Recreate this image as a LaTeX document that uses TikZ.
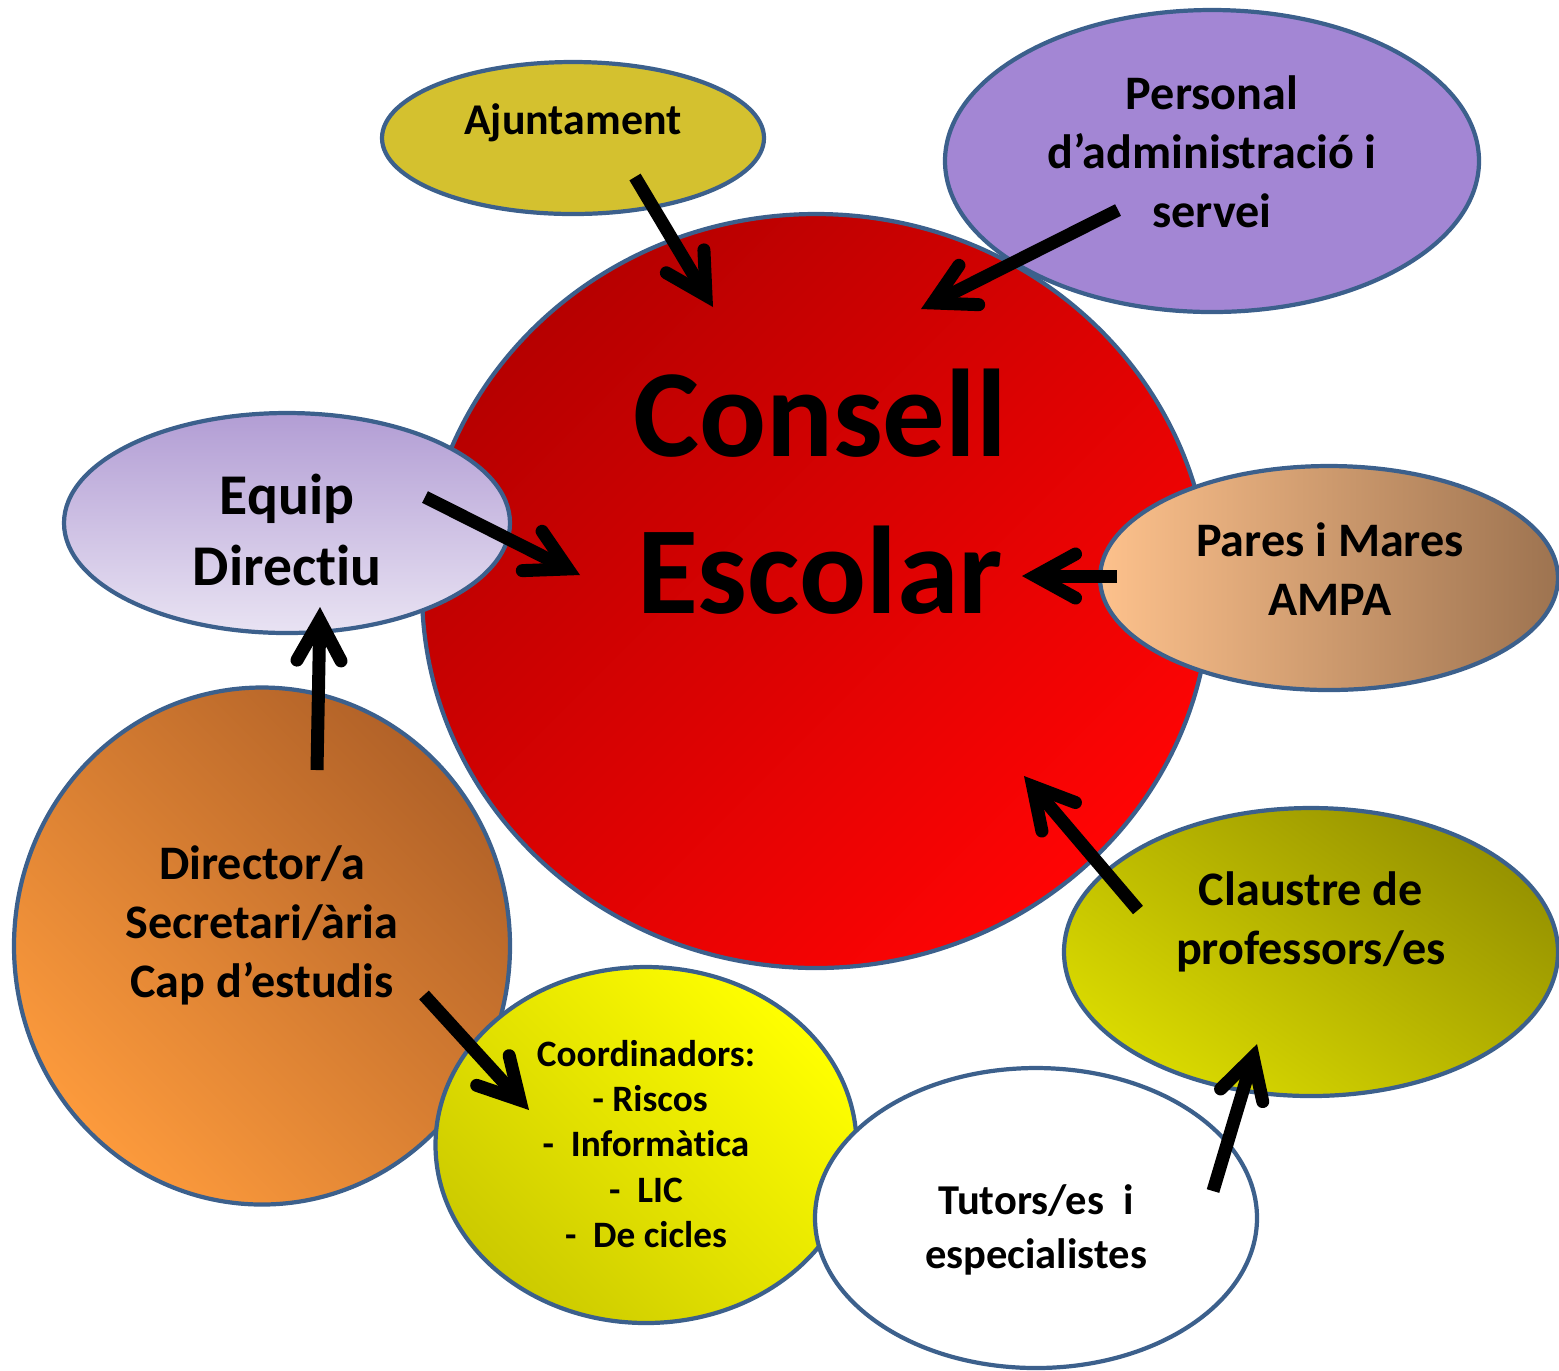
\documentclass[tikz,border=0pt]{standalone}
\usepackage{fontspec}
\setmainfont{Carlito}[Ligatures={TeX,NoCommon}]
\usetikzlibrary{shapes.geometric,arrows.meta}

\definecolor{edgeblue}{RGB}{60,96,140}
\definecolor{ajcol}{RGB}{212,193,47}
\definecolor{perscol}{RGB}{163,134,212}
\definecolor{redA}{RGB}{182,0,0}
\definecolor{redB}{RGB}{255,4,4}
\definecolor{eqA}{RGB}{178,157,212}
\definecolor{eqB}{RGB}{233,227,243}
\definecolor{paA}{RGB}{253,193,140}
\definecolor{paB}{RGB}{157,115,80}
\definecolor{dirA}{RGB}{178,98,40}
\definecolor{dirB}{RGB}{252,154,60}
\definecolor{coA}{RGB}{255,255,0}
\definecolor{coM}{RGB}{254,254,0}
\definecolor{coB}{RGB}{204,202,0}
\definecolor{clA}{RGB}{150,146,0}
\definecolor{clM}{RGB}{212,211,0}
\definecolor{clB}{RGB}{218,218,0}

\begin{document}
\begin{tikzpicture}[
  bubble/.style={ellipse, draw=edgeblue, line width=1.2pt, inner sep=0pt},
  txt/.style={align=center, font=\bfseries\fontsize{13.7}{16.8}\selectfont},
  arr/.style={-{Straight Barb[length=4.0mm,width=4.4mm,line cap=round]}, line width=3.7pt}
]
  \useasboundingbox (0,0) rectangle (15.59,-13.70);

  \node[bubble, fill=ajcol, minimum width=3.82cm, minimum height=1.52cm] (ajunt) at (5.73,-1.38) {};
  \node[bubble, fill=perscol, minimum width=5.34cm, minimum height=3.02cm] (pers) at (12.12,-1.61) {};
  \node[bubble, top color=redA, bottom color=redB, shading angle=45, minimum width=7.88cm, minimum height=7.54cm] (consell) at (8.16,-5.91) {};
  \node[bubble, top color=eqA, bottom color=eqB, minimum width=4.46cm, minimum height=2.20cm] (equip) at (2.87,-5.23) {};
  \node[bubble, left color=paA, right color=paB, minimum width=4.58cm, minimum height=2.24cm] (pares) at (13.29,-5.78) {};
  \node[bubble, top color=dirA, bottom color=dirB, shading angle=-45, minimum width=4.96cm, minimum height=5.17cm] (direct) at (2.62,-9.46) {};
  \node[bubble, top color=coA, middle color=coM, bottom color=coB, shading angle=-45, minimum width=4.21cm, minimum height=3.56cm] (coord) at (6.46,-11.45) {};
  \node[bubble, fill=white, minimum width=4.42cm, minimum height=3.00cm] (tutors) at (10.36,-12.18) {};
  \node[bubble, top color=clA, middle color=clM, bottom color=clB, shading angle=-35, minimum width=4.94cm, minimum height=2.88cm] (claus) at (13.11,-9.52) {};

  \node[txt, font=\bfseries\fontsize{12.5}{16.8}\selectfont] (ajunt-t) at (5.73,-1.23) {Ajuntament};
  \node[txt] (pers-t) at (12.12,-1.52) {Personal\\d’administració i\\servei};
  \node[txt, font=\bfseries\fontsize{35.5}{44.7}\selectfont] (consell-t) at (8.2,-4.92) {Consell\\Escolar};
  \node[txt, font=\bfseries\fontsize{16.4}{20.2}\selectfont] (equip-t) at (2.87,-5.30) {Equip\\Directiu};
  \node[txt] (pares-t) at (13.30,-5.69) {Pares i Mares\\AMPA};
  \node[txt] (direct-t) at (2.62,-9.25) {Director/a\\Secretari/ària\\Cap d’estudis};
  \node[txt] (claus-t) at (13.11,-9.22) {Claustre de\\professors/es};
  \node[txt, font=\bfseries\fontsize{12.1}{15.4}\selectfont] (tutors-t) at (10.36,-12.30) {Tutors/es\ \ i\\especialistes};
  \node[txt, font=\bfseries\fontsize{10.6}{12.9}\selectfont] (coord-t) at (6.46,-11.44) {Coordinadors:\\\ - Riscos\\-\ \ Informàtica\\-\ \ LIC\\-\ \ De cicles};

  \coordinate (ajunt-o) at (6.35,-1.77);
  \coordinate (ajunt-i) at (7.13,-3.07);
  \coordinate (pers-o) at (11.18,-2.10);
  \coordinate (pers-i) at (9.21,-3.09);
  \coordinate (equip-o) at (4.25,-4.97);
  \coordinate (equip-i) at (5.80,-5.75);
  \coordinate (pares-o) at (11.17,-5.76);
  \coordinate (pares-i) at (10.22,-5.76);
  \coordinate (claus-o) at (11.38,-9.10);
  \coordinate (claus-i) at (10.24,-7.76);
  \coordinate (direct-o) at (3.17,-7.70);
  \coordinate (direct-i) at (3.20,-6.07);
  \coordinate (direct-o2) at (4.24,-9.95);
  \coordinate (coord-i) at (5.29,-11.10);
  \coordinate (tutors-o) at (12.13,-11.91);
  \coordinate (claus-i2) at (12.57,-10.44);

  \draw[arr] (ajunt-o) -- (ajunt-i);
  \draw[arr] (pers-o) -- (pers-i);
  \draw[arr] (equip-o) -- (equip-i);
  \draw[arr] (pares-o) -- (pares-i);
  \draw[arr] (claus-o) -- (claus-i);
  \draw[arr] (direct-o) -- (direct-i);
  \draw[arr] (direct-o2) -- (coord-i);
  \draw[arr] (tutors-o) -- (claus-i2);
\end{tikzpicture}
\end{document}
